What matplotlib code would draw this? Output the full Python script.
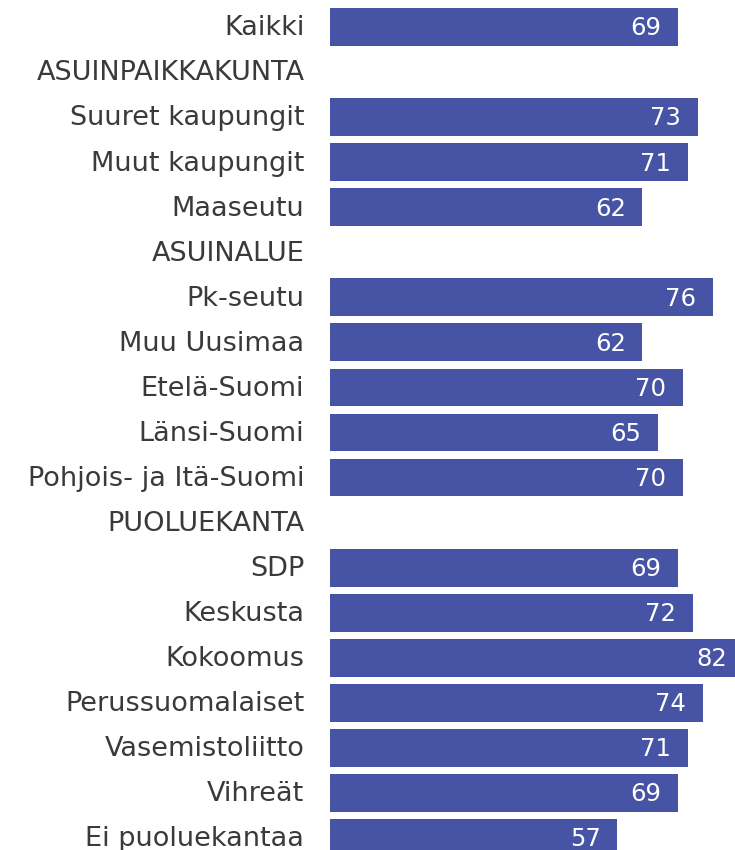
import matplotlib
matplotlib.use("Agg")
import matplotlib.pyplot as plt

categories = ["Kaikki", "ASUINPAIKKAKUNTA", "Suuret kaupungit", "Muut kaupungit", "Maaseutu",
              "ASUINALUE", "Pk-seutu", "Muu Uusimaa", "Etelä-Suomi", "Länsi-Suomi",
              "Pohjois- ja Itä-Suomi", "PUOLUEKANTA", "SDP", "Keskusta", "Kokoomus",
              "Perussuomalaiset", "Vasemistoliitto", "Vihreät", "Ei puoluekantaa"]
values = [69, None, 73, 71, 62, None, 76, 62, 70, 65, 70, None, 69, 72, 82, 74, 71, 69, 57]

W, H = 735, 850
fig = plt.figure(figsize=(W / 100, H / 100), dpi=100)
x0 = 330
ax = fig.add_axes([x0 / W, 0, (W - x0) / W, 1])
pxu = 5.04
ax.set_xlim(0, (W - x0) / pxu)
row_px = 45.06
top_row_y = 27
ax.set_ylim(18 + (H - 838) / row_px, -top_row_y / row_px)
ax.axis("off")

color = "#4754A5"
for i, (c, v) in enumerate(zip(categories, values)):
    if v is not None:
        ax.barh(i, v, height=0.84, color=color, linewidth=0)
        ax.text(v - 3.3, i + 0.03, f"{v}", ha="right", va="center", color="white", fontsize=17.5,
                clip_on=False)
    ax.text(-5.1, i + 0.03, c, ha="right", va="center", color="#3a3a3a", fontsize=19.5,
            clip_on=False)

fig.savefig("out.png", dpi=100)
